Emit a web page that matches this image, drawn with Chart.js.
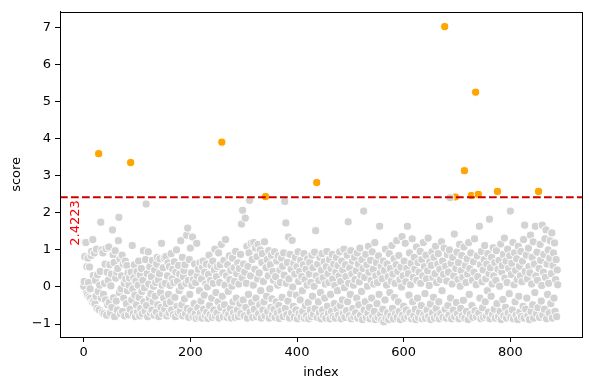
<!DOCTYPE html>
<html>
<head>
<meta charset="utf-8">
<script src="https://cdn.jsdelivr.net/npm/chart.js@4.4.1/dist/chart.umd.min.js"></script>
<style>
  html, body { margin: 0; padding: 0; background: #fff; }
  #wrap { width: 590px; height: 390px; }
</style>
</head>
<body>
<div id="wrap"><canvas id="chart" width="590" height="390"></canvas></div>
<script>
// ===========================
// Data
// ===========================
const threshold = 2.4223;
const xTicks = [0, 200, 400, 600, 800];
const yTicks = [-1, 0, 1, 2, 3, 4, 5, 6, 7];

// score per index (0..889)
const scores = [
  0.02, 0.15, 0.82, 1.21, 1.20, -0.18, 0.55, -0.22, 0.78, 0.12,
  -0.27, 0.54, -0.05, -0.31, 0.85, 0.96, -0.40, 1.28, 0.31, -0.38,
  0.92, -0.45, 0.18, -0.25, 1.02, -0.58, 0.33, -0.12, 3.60, -0.62,
  0.05, 0.42, 1.75, -0.30, 1.00, -0.68, 0.92, -0.20, -0.72, 0.10,
  0.62, -0.35, 1.04, -0.76, 0.40, -0.48, 0.18, 1.08, -0.42, 0.60,
  -0.70, 0.03, 0.35, -0.55, 1.54, 0.87, -0.29, 0.66, -0.80, 0.98,
  0.24, -0.38, 0.40, -0.62, 0.50, 1.25, 1.88, -0.15, 0.75, -0.72,
  -0.05, 0.30, 0.86, -0.66, 0.62, -0.30, 0.10, -0.78, 0.70, 0.22,
  -0.45, 0.58, -0.10, 0.38, -0.75, 0.05, 0.24, -0.60, 3.36, 0.40,
  -0.35, 1.12, -0.05, -0.72, 0.25, 0.60, -0.22, -0.80, 0.16, -0.48,
  0.42, -0.68, 0.05, 0.70, -0.28, -0.78, 0.32, -0.58, 0.50, -0.12,
  -0.72, 0.18, 0.98, -0.40, -0.02, -0.65, 0.74, 2.24, -0.50, 0.36,
  -0.80, 0.95, 0.08, -0.30, 0.55, -0.70, -0.18, 0.28, -0.62, 0.72,
  -0.40, 0.02, -0.76, 0.46, -0.25, 0.12, -0.68, 0.62, 0.80, -0.48,
  0.20, -0.80, 0.36, 0.76, -0.15, -0.55, 1.18, 0.05, -0.72, 0.52,
  -0.30, 0.78, -0.60, 0.10, 0.82, -0.45, -0.78, 0.30, 0.65, -0.20,
  -0.70, 0.55, 0.04, -0.40, 0.90, -0.62, 0.22, 0.48, -0.75, 0.12,
  0.68, -0.28, -0.80, 0.40, 1.00, -0.52, 0.16, -0.70, 0.58, -0.10,
  0.35, -0.66, 1.25, 0.02, -0.48, 0.80, -0.78, 0.28, 0.45, -0.32,
  0.60, -0.72, 0.10, 1.40, -0.58, 1.59, 0.18, -0.82, 0.74, -0.20,
  1.05, -0.64, 0.38, 0.04, 1.35, -0.80, 0.20, -0.45, 0.62, -0.72,
  0.12, -0.85, 1.18, 0.30, -0.56, 0.48, -0.82, -0.10, 0.66, -0.70,
  -0.38, 0.22, -0.84, 0.54, 0.70, -0.60, -0.22, 0.40, -0.78, 0.08,
  0.62, -0.68, 0.00, -0.85, 0.34, 0.86, -0.50, -0.75, 0.18, 0.58,
  -0.30, -0.82, 0.70, 0.10, -0.62, 0.46, 1.02, -0.78, -0.15, 0.28,
  -0.70, 0.55, -0.40, 0.92, -0.84, 0.12, 0.60, -0.55, 1.15, 3.91,
  -0.25, 0.38, -0.80, 0.72, -0.48, 0.05, 1.28, -0.68, 0.30, -0.82,
  0.60, -0.12, -0.74, 0.84, 0.20, -0.58, 0.45, -0.84, 0.02, 0.78,
  -0.40, -0.70, 0.52, 0.15, -0.82, 0.96, -0.30, 0.36, -0.62, 0.65,
  -0.80, 0.08, 0.50, -0.45, 0.88, -0.72, 1.70, 0.25, 2.07, -0.35,
  0.62, -0.78, 0.40, 1.86, -0.55, 0.10, 1.10, -0.84, 0.56, -0.20,
  0.92, 2.34, -0.68, 0.30, 1.18, -0.42, 0.74, -0.82, 0.05, 1.20,
  -0.60, 0.48, 1.05, -0.30, -0.80, 0.82, 0.22, 1.15, -0.72, 0.38,
  -0.48, 1.00, -0.10, -0.84, 0.66, 0.90, -0.62, 0.15, -0.40, 1.22,
  -0.78, 2.44, 0.52, -0.25, 0.74, -0.66, 0.30, 0.98, -0.84, -0.05,
  0.60, -0.55, 0.86, -0.32, -0.76, 0.42, 0.18, -0.60, 0.95, -0.82,
  0.28, -0.40, 0.70, -0.70, 0.05, 0.84, -0.50, -0.85, 0.46, 0.12,
  -0.65, 0.78, -0.28, 0.56, -0.80, 0.92, 0.32, 2.31, -0.58, 1.73,
  0.10, -0.75, 0.66, -0.38, 1.35, 0.22, -0.84, 0.88, -0.18, 0.48,
  -0.70, 1.26, 0.00, -0.52, 0.64, -0.82, 0.35, 0.80, -0.62, -0.22,
  0.55, -0.86, 0.95, 0.15, -0.72, 0.42, -0.35, 0.72, -0.80, 0.28,
  -0.10, -0.66, 0.60, 0.90, -0.84, 0.20, -0.50, 0.48, -0.78, 0.05,
  0.76, -0.42, -0.86, 0.35, 0.66, -0.62, 0.12, -0.80, 0.86, -0.25,
  0.52, -0.74, 0.02, 0.94, -0.58, 1.52, 0.30, 2.82, -0.82, 0.62,
  -0.40, 0.18, -0.70, 0.80, -0.15, -0.86, 0.45, 0.90, -0.62, 0.25,
  -0.78, 0.68, -0.30, 0.08, -0.84, 0.55, 0.96, -0.52, 0.36, -0.72,
  0.12, 0.74, -0.86, -0.20, 0.50, -0.66, 0.88, 0.22, -0.80, 0.62,
  -0.45, 0.04, -0.84, 0.40, 0.80, -0.60, -0.10, 0.58, -0.76, 0.30,
  0.95, -0.50, 0.15, -0.86, 0.70, -0.35, 0.46, -0.72, 1.02, -0.02,
  -0.82, 0.60, 0.28, -0.64, 0.86, -0.40, 1.76, 0.10, -0.78, 0.52,
  -0.20, 0.98, -0.86, 0.35, 0.70, -0.58, 0.05, -0.80, 0.80, 0.20,
  -0.70, 0.44, -0.30, 0.92, -0.84, 0.62, -0.48, 0.14, 1.05, -0.76,
  0.32, -0.12, 0.74, -0.88, 0.50, 2.05, -0.62, 0.26, -0.40, 0.88,
  -0.82, 0.60, 0.02, -0.70, 1.10, 0.40, -0.55, -0.86, 0.72, 0.18,
  -0.30, 0.95, -0.78, 0.48, 0.08, -0.66, 1.20, -0.88, 0.30, 0.66,
  -0.45, 0.12, -0.82, 0.84, -0.20, 1.64, 0.38, -0.74, 0.56, -0.90,
  0.22, -0.60, 0.70, -0.94, 0.45, -0.35, 1.02, -0.84, 0.05, 0.62,
  -0.70, 0.28, -0.88, 0.90, -0.15, 0.50, -0.78, 0.16, 1.12, -0.58,
  0.35, -0.86, 0.76, -0.28, 0.10, -0.72, 0.60, 1.25, -0.82, 0.42,
  -0.40, 0.85, -0.66, 0.20, -0.88, 0.54, 0.00, 1.36, -0.76, 0.30,
  -0.52, 0.70, -0.84, 1.18, 0.14, -0.62, 0.50, 1.64, -0.80, 0.36,
  -0.22, 0.92, -0.70, 0.06, 0.64, -0.86, 1.30, -0.40, 0.26, -0.78,
  0.80, 0.48, -0.60, -0.88, 1.08, 0.18, -0.30, 0.66, -0.82, 0.40,
  -0.68, 0.96, 0.10, -0.50, 0.74, -0.86, 0.30, 1.20, -0.75, 0.55,
  -0.18, -0.84, 0.86, 0.22, -0.62, 0.44, 1.32, -0.80, 0.04, 0.68,
  -0.46, -0.88, 0.58, 0.95, -0.70, 0.26, -0.28, 0.80, -0.84, 0.36,
  1.10, -0.58, 0.12, -0.78, 0.62, 0.90, -0.40, -0.86, 0.48, 0.20,
  -0.72, 1.22, -0.10, 0.70, -0.82, 0.34, 1.05, 7.03, -0.60, 0.56,
  -0.84, 0.16, 0.88, -0.50, 0.40, -0.76, 1.00, 2.41, -0.30, 0.64,
  -0.86, 0.08, 0.80, -0.62, 0.30, 1.43, -0.80, 2.43, 0.50, -0.42,
  0.94, -0.72, 0.20, 0.66, -0.86, 1.15, 0.02, -0.58, 0.44, 0.85,
  -0.78, 0.26, -0.36, 1.08, 3.14, -0.84, 0.58, 0.12, -0.66, 0.76,
  0.35, -0.88, 1.20, -0.20, 0.50, -0.74, 0.92, 2.47, -0.50, 0.18,
  -0.82, 0.68, 0.40, 1.30, -0.64, 5.26, 0.06, -0.80, 0.84, 0.28,
  2.50, -0.70, 1.64, -0.30, 0.60, -0.86, 0.96, 0.14, -0.56, 0.46,
  -0.82, 0.74, 1.12, -0.40, 0.22, -0.78, 0.62, -0.10, 0.90, -0.68,
  0.36, 1.83, -0.86, 0.52, -0.25, 0.80, 0.08, -0.74, 1.06, 0.30,
  -0.60, 0.66, -0.84, 0.18, 0.98, -0.45, 2.58, 0.48, -0.80, 0.72,
  0.02, -0.66, 1.16, -0.88, 0.40, 0.58, -0.34, 0.88, -0.78, 1.32,
  0.24, -0.55, 0.70, -0.84, 0.12, 1.02, -0.70, 0.50, -0.18, 0.84,
  2.05, -0.82, 0.34, 0.64, -0.62, 1.20, -0.86, 0.06, 0.92, -0.40,
  0.45, -0.76, 0.76, 0.20, -0.88, 1.10, -0.25, 0.56, -0.68, 0.30,
  0.96, -0.80, 0.14, 0.70, -0.52, 1.28, -0.84, 1.67, 0.42, -0.60,
  0.86, -0.30, 0.22, -0.78, 1.05, 0.55, -0.88, 0.38, 1.40, -0.66,
  0.08, 0.80, -0.48, 1.22, -0.84, 0.62, -0.15, 1.64, 0.30, -0.72,
  0.94, 0.18, -0.56, 2.58, 0.50, -0.82, 1.15, 0.72, -0.38, 0.04,
  1.67, -0.76, 0.40, 0.88, -0.60, 1.30, 0.26, 1.54, -0.86, 0.62,
  -0.20, 1.00, 0.10, -0.70, 0.78, 1.25, -0.45, 0.36, 1.46, -0.84,
  0.58, 0.92, -0.30, 1.19, -0.66, 0.20, 0.74, -0.80, 0.46, 0.06
];

// ===========================
// Datasets
// ===========================
const normalPts = [];
const outlierPts = [];
scores.forEach((s, i) => {
  if (s > threshold) outlierPts.push({ x: i, y: s });
  else normalPts.push({ x: i, y: s });
});

const FONT = "'DejaVu Sans', sans-serif";

// frame + threshold line + label
const extras = {
  id: "extras",
  afterDatasetsDraw(chart) {
    const { ctx, chartArea: a, scales } = chart;
    const y = scales.y.getPixelForValue(threshold);
    ctx.save();
    ctx.strokeStyle = "#cc0000";
    ctx.lineWidth = 2;
    ctx.setLineDash([7.7, 3.3]);
    ctx.beginPath();
    ctx.moveTo(a.left, y);
    ctx.lineTo(a.right, y);
    ctx.stroke();
    ctx.setLineDash([]);

    // label, rotated, hanging just below the line
    const x0 = scales.x.getPixelForValue(0);
    ctx.translate(x0 - 2, y + 3);
    ctx.rotate(-Math.PI / 2);
    ctx.fillStyle = "#ff0000";
    ctx.font = "13px " + FONT;
    ctx.textAlign = "right";
    ctx.textBaseline = "bottom";
    ctx.fillText(threshold.toFixed(4), 0, 0);
    ctx.restore();

    ctx.save();
    ctx.strokeStyle = "#000";
    ctx.lineWidth = 1;
    ctx.strokeRect(Math.round(a.left) + 0.5, Math.round(a.top) + 0.5,
      Math.round(a.right - a.left), Math.round(a.bottom - a.top));
    ctx.restore();
  }
};

const chart = new Chart(document.getElementById("chart"), {
  type: "scatter",
  data: {
    datasets: [
      {
        data: normalPts,
        backgroundColor: "#d3d3d3",
        borderColor: "#ffffff",
        borderWidth: 1,
        pointRadius: 4.1
      },
      {
        data: outlierPts,
        backgroundColor: "#ffa500",
        borderColor: "#ffffff",
        borderWidth: 1,
        pointRadius: 4.1
      }
    ]
  },
  options: {
    responsive: false,
    animation: false,
    layout: { padding: { left: 0, right: 8, top: 10, bottom: 0 } },
    plugins: { legend: { display: false }, tooltip: { enabled: false } },
    scales: {
      x: {
        type: "linear",
        min: -44.5,
        max: 934.5,
        afterBuildTicks: s => { s.ticks = xTicks.map(v => ({ value: v })); },
        afterFit: s => { s.height = 53; },
        grid: { drawOnChartArea: false, drawTicks: true, tickLength: 5, color: "#000" },
        border: { display: true, color: "#000" },
        ticks: { color: "#000", font: { family: FONT, size: 13 }, padding: 3, maxRotation: 0 },
        title: { display: true, text: "index", color: "#000", font: { family: FONT, size: 13 }, padding: { top: 0, bottom: 10 } }
      },
      y: {
        type: "linear",
        min: -1.35,
        max: 7.43,
        afterBuildTicks: s => { s.ticks = yTicks.map(v => ({ value: v })); },
        afterFit: s => { s.width = 60; },
        grid: { drawOnChartArea: false, drawTicks: true, tickLength: 5, color: "#000" },
        border: { display: true, color: "#000" },
        ticks: {
          color: "#000", font: { family: FONT, size: 13 }, padding: 4,
          callback: v => (v < 0 ? "\u2212" + Math.abs(v) : String(v))
        },
        title: { display: true, text: "score", color: "#000", font: { family: FONT, size: 13 }, padding: { top: 9, bottom: 0 } }
      }
    }
  },
  plugins: [extras]
});
</script>
</body>
</html>
